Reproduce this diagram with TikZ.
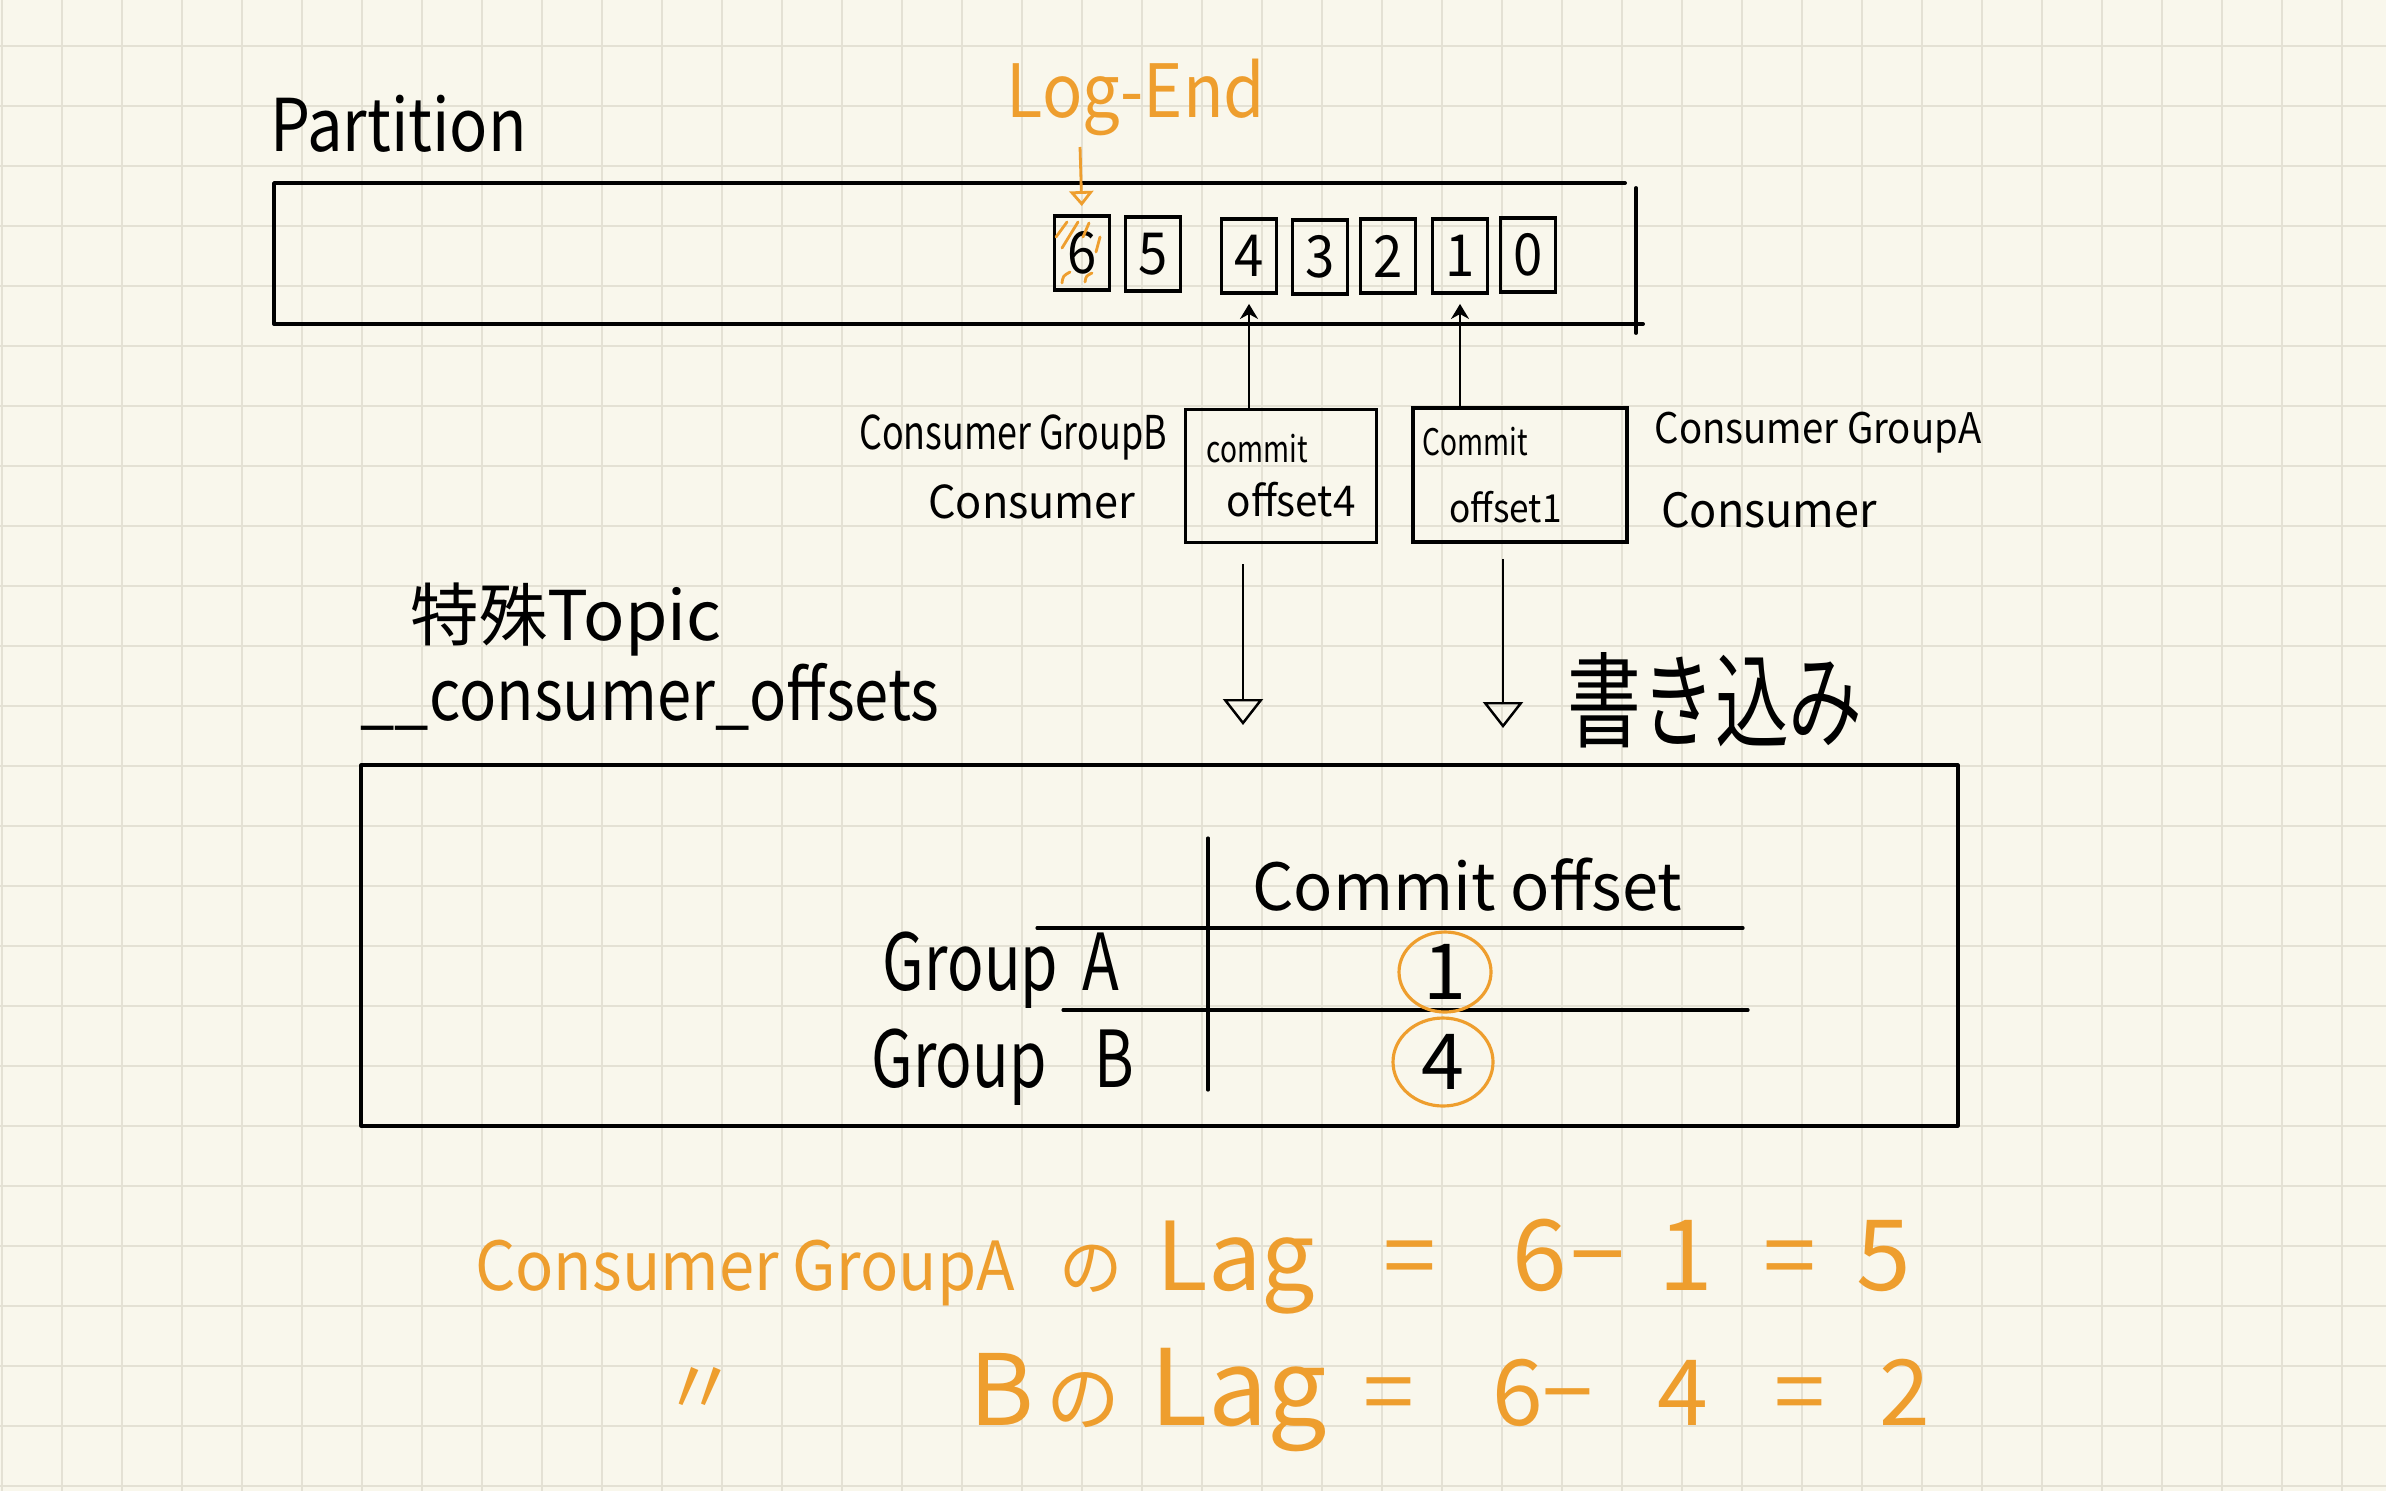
\documentclass[tikz,border=0pt]{standalone}
\usepackage{fontspec}
\setmainfont{Noto Sans CJK JP}
\usepackage{graphicx}
\usetikzlibrary{arrows.meta,shapes.geometric}

\definecolor{paper}{RGB}{249,247,236}
\definecolor{gridline}{RGB}{228,225,212}
\definecolor{penorange}{RGB}{238,158,46}

% handwriting is tall and narrow
\newcommand{\hand}[2]{\scalebox{1}[#1]{#2}}
\newcommand{\fsz}[1]{\fontsize{#1}{#1}\selectfont}

\tikzset{
  pen/.style={line width=1pt, line cap=round, line join=round},
  gridln/.style={draw=gridline, line width=0.6pt},
  inktext/.style={inner sep=0pt, outer sep=0pt},
  offbox/.style={draw, line width=1.1pt, minimum width=5.5mm, minimum height=7.4mm, inner sep=0pt, font=\fsz{15}},
  commitbox/.style={draw, line width=1pt, align=left, inner sep=0pt},
  commitarr/.style={line width=0.7pt, -{Stealth[length=1.5mm,width=1.8mm]}},
  writearr/.style={line width=0.7pt, -{Triangle[open,length=2.6mm,width=4mm]}},
  logarr/.style={draw=penorange, line width=0.8pt, -{Triangle[open,length=1.5mm,width=2.4mm]}},
  lagtxt/.style={text=penorange, anchor=base, inner sep=0pt},
  circled/.style={ellipse, draw=penorange, line width=0.9pt, inner sep=0pt, font=\fsz{22}},
}

\begin{document}
\begin{tikzpicture}[x=0.1mm,y=0.1mm,yscale=-1,xscale=1]
\useasboundingbox (0,0) rectangle (2386,1491);
\fill[paper] (0,0) rectangle (2386,1491);
% grid paper
\foreach \gx in {2,62,...,2386} \draw[gridln] (\gx,0) -- (\gx,1491);
\foreach \gy in {46,106,...,1491} \draw[gridln] (0,\gy) -- (2386,\gy);

% partition
\node[inktext, anchor=west, font=\fsz{18}] (part) at (270,124) {\hand{1.15}{Partition}};
\draw[pen, line width=1.1pt] (1625,183) -- (274,183) -- (274,324) -- (1643,324);
\draw[pen, line width=1.1pt] (1636,188) -- (1636,333);

% offsets
\foreach \n/\x/\y in {6/1082/253, 5/1153/254, 4/1249/256, 3/1320/257, 2/1388/256, 1/1460/256, 0/1528/255}
  \node[offbox] (o\n) at (\x,\y) {\hand{1.1}{\n}};

% log end
\draw[penorange, line width=0.8pt, line cap=round] (1056,237) -- (1067,222) (1062,248) -- (1078,222) (1083,237) -- (1089,223) (1096,252) -- (1100,237);
\draw[penorange, line width=0.8pt, line cap=round] (1062,283) .. controls (1063,276) .. (1070,272) (1085,282) .. controls (1086,276) .. (1092,273);
\node[inktext, text=penorange, font=\fsz{19}] (logend) at (1136,97) {\hand{1.1}{Log-End}};
\coordinate (logtail) at (1080,147);
\draw[logarr, shorten >=0.8mm] (logtail) -- (o6.north);

% consumers
\node[commitbox, minimum width=19.1mm, minimum height=13.3mm] (cB) at (1281,476) {{\fsz{8}\hand{1.3}{commit}}\\[1.2mm]\hspace*{2mm}{\fsz{11.5}\hand{1.05}{offset4}}};
\node[commitbox, minimum width=21.4mm, minimum height=13.4mm] (cA) at (1520,475) {{\fsz{8}\hand{1.3}{Commit}}\\[2.5mm]\hspace*{2.7mm}{\fsz{10}\hand{1.1}{offset1}}\rule{5.6mm}{0pt}};
\draw[commitarr, shorten >=0.9mm] (cB.north -| o4.south) -- (o4.south);
\draw[commitarr, shorten >=0.9mm] (cA.north -| o1.south) -- (o1.south);

\node[inktext, font=\fsz{10.2}] (grpB) at (1013,437) {\hand{1.3}{Consumer GroupB}};
\node[inktext, font=\fsz{12.3}] (consB) at (1032,502) {\hand{1.05}{Consumer}};
\node[inktext, font=\fsz{10.9}] (grpA) at (1818,433) {\hand{1.1}{Consumer GroupA}};
\node[inktext, font=\fsz{12.8}] (consA) at (1769,510) {\hand{1.05}{Consumer}};

% __consumer_offsets
\node[inktext, font=\fsz{19.5}] (topic) at (566,620) {特殊Topic};
\node[inktext, font=\fsz{17.5}] (offtopic) at (650,697) {\hand{1.15}{\_\_consumer\_offsets}};

\coordinate (wB) at (1243,725);
\coordinate (wA) at (1503,728);
\draw[writearr, shorten <=2mm] (cB.south -| wB) -- (wB);
\draw[writearr, shorten <=1.5mm] (cA.south -| wA) -- (wA);
\node[inktext, font=\fsz{21}] (write) at (1715,700) {\hand{1.4}{書き込み}};

% topic table
\draw[pen, line width=0.9pt] (361,765) rectangle (1958,1126);
\draw[pen, line width=0.9pt] (1208,838) -- (1208,1090);
\draw[pen, line width=0.9pt] (1037,928) -- (1743,928);
\draw[pen, line width=0.9pt] (1063,1010) -- (1748,1010);
\node[inktext, font=\fsz{18.5}] (hdr) at (1467,885) {Commit offset};
\node[inktext, font=\fsz{17.2}] (gA) at (1001,970) {\hand{1.3}{Group\hspace{0.4em}A}};
\node[inktext, font=\fsz{17.2}] (gB) at (1003,1067) {\hand{1.3}{Group\hspace{0.8em}B}};
\node[circled, minimum width=9.2mm, minimum height=8mm] (vA) at (1445,972) {1};
\node[circled, minimum width=10mm, minimum height=8.8mm] (vB) at (1443,1062) {4};

% lag
\node[lagtxt, font=\fsz{18}] (lagA) at (745,1290) {\hand{1.07}{Consumer GroupA}};
\foreach \x/\t/\s [count=\i] in {1091/の/18, 1236/Lag/27, 1410/=/27, 1540/6/28, 1598/−/28, 1686/1/28, 1790/=/27, 1884/5/28}
  \node[lagtxt, font=\fsz{\s}] (lagA\i) at (\x,1290) {\t};
\node[lagtxt, font=\fsz{22}] (ditto) at (700,1415) {〃};
\foreach \x/\t/\s [count=\i] in {1002/B/28, 1083/の/21, 1239/Lag/30, 1389/=/26, 1518/6/26, 1568/−/26, 1683/4/26, 1800/=/26, 1905/2/26}
  \node[lagtxt, font=\fsz{\s}] (lagB\i) at (\x,1425) {\t};
\end{tikzpicture}
\end{document}
